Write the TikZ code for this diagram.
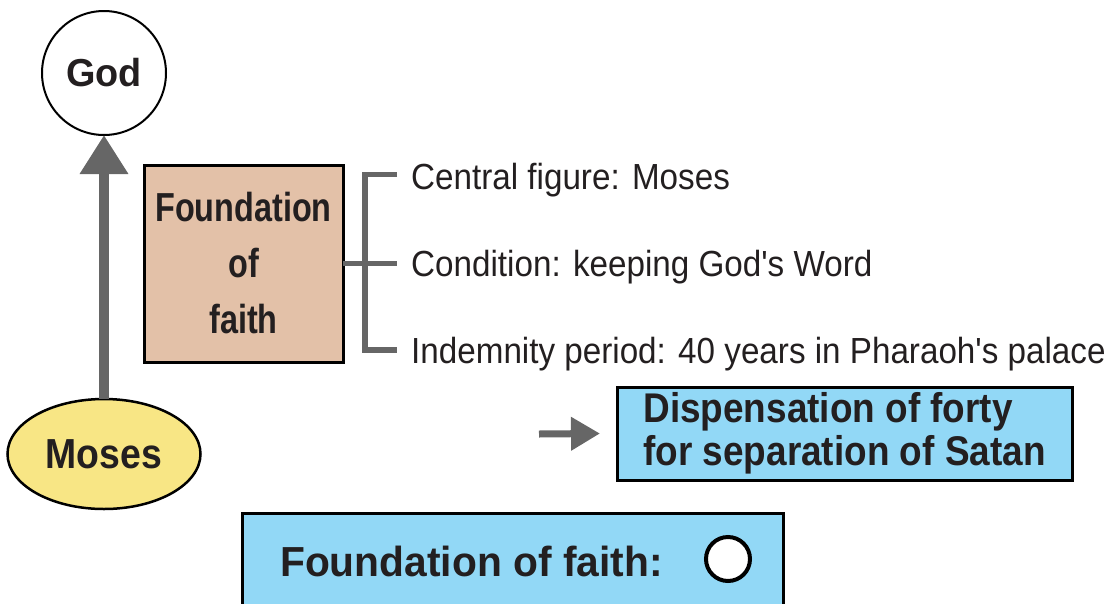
\documentclass[tikz,border=0pt]{standalone}
\usepackage{fontspec}
\setmainfont{Liberation Sans}
\newfontfamily\fA{Liberation Sans}[FakeStretch=0.80]
\newfontfamily\fB{Liberation Sans}[FakeStretch=0.89]
\newfontfamily\fC{Liberation Sans}[FakeStretch=0.915]
\newfontfamily\fD{Liberation Sans}[FakeStretch=0.97]
\usetikzlibrary{arrows.meta,shapes.geometric}
\definecolor{ink}{HTML}{231F20}
\definecolor{arrowgray}{HTML}{666666}
\definecolor{tanfill}{HTML}{E3C1A8}
\definecolor{yelfill}{HTML}{F8E685}
\definecolor{skyfill}{HTML}{92D8F6}
\begin{document}
\begin{tikzpicture}[x=1pt,y=-1pt,
  godnode/.style={circle, draw=black, line width=2pt, minimum size=124pt, inner sep=0pt, outer sep=0pt, fill=white, text=ink, font=\fD\bfseries\fontsize{39}{47}\selectfont},
  mosesnode/.style={ellipse, draw=black, line width=2.5pt, fill=yelfill, minimum width=193pt, minimum height=110pt, inner sep=0pt, outer sep=0pt, text=ink, font=\fB\bfseries\fontsize{42}{50}\selectfont},
  fbox/.style={rectangle, draw=black, line width=3pt, fill=tanfill, minimum width=199pt, minimum height=197pt, inner sep=0pt, outer sep=0pt, align=center, text=ink, font=\fA\bfseries\fontsize{40.5}{56}\selectfont},
  itemtext/.style={anchor=base west, inner sep=0pt, text=ink, font=\fC\fontsize{36.3}{44}\selectfont},
  bluebox/.style={rectangle, draw=black, line width=3pt, fill=skyfill, inner sep=0pt, outer sep=0pt, text=ink},
  uparrow/.style={draw=arrowgray, line width=10pt, -{Triangle[length=39pt,width=46pt]}},
  smallarrow/.style={draw=arrowgray, line width=7pt, -{Triangle[length=29pt,width=32pt]}},
  bracket/.style={draw=arrowgray, line width=5.5pt, line join=miter}
]
\useasboundingbox (0,0) rectangle (1114,603);
\clip (0,0) rectangle (1114,603);

% nodes
\node[godnode] (god) at (104,73) {God};
\node[mosesnode] (moses) at (104,454) {Moses};
\node[fbox] (fbox) at (243.5,263.5) {Foundation\\of\\faith};

\node[itemtext] (t1) at (411,189) {Central figure: Moses};
\node[itemtext] (t2) at (411,276) {Condition: keeping God's Word};
\node[itemtext] (t3) at (411,363) {Indemnity period: 40 years in Pharaoh's palace};

\node[bluebox, minimum width=455pt, minimum height=93pt, align=left,
      font=\fB\bfseries\fontsize{41.5}{43}\selectfont] (disp) at (844.5,433.5)
      {Dispensation of forty\\for separation of Satan};

\node[bluebox, minimum width=541pt, minimum height=130pt] (bottom) at (512.5,578) {};
\node[anchor=base west, inner sep=0pt, text=ink, font=\fD\bfseries\fontsize{42}{50}\selectfont] (bl) at (280,576) {Foundation of faith:};
\node[circle, draw=black, line width=4pt, fill=white, minimum size=44pt, inner sep=0pt] (mark) at (728,559) {};

% connectors
\draw[uparrow] (moses.north) -- (god.south);

\coordinate (b1) at (397,174.5);
\coordinate (b2) at (397,263.5);
\coordinate (b3) at (397,350);
\coordinate (bx) at (365,262);
\draw[bracket] (b1) -| (bx) |- (b3);
\draw[bracket] (fbox.east) -- (b2);

\coordinate (a0) at (539,434);
\draw[smallarrow] (a0) -- ([xshift=-17pt]disp.west);
\end{tikzpicture}
\end{document}
